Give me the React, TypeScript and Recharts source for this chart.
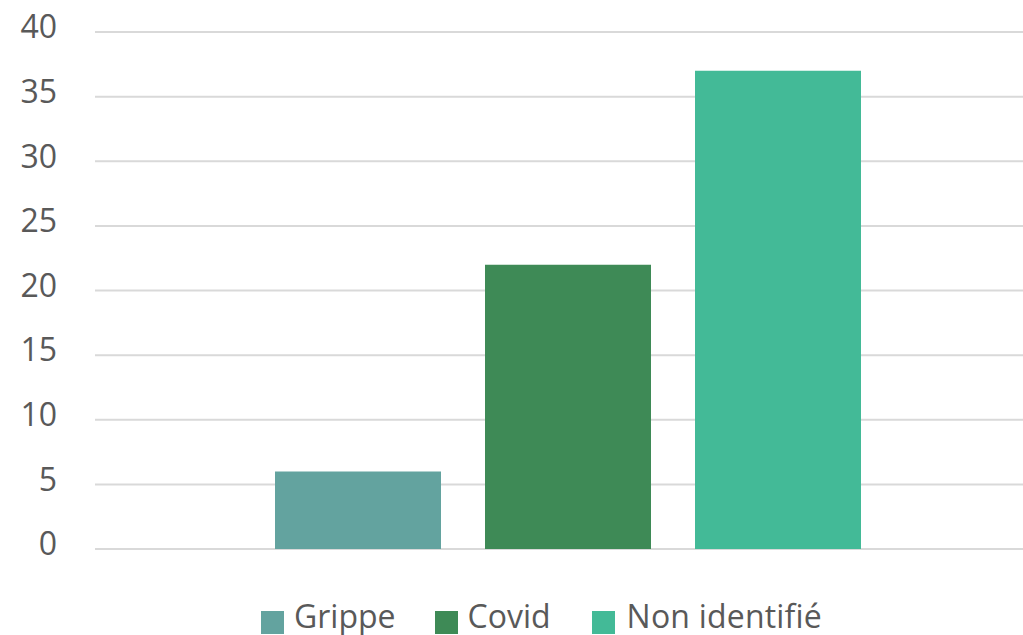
import { Bar, BarChart, CartesianGrid, Legend, XAxis, YAxis } from 'recharts';

const seriesNames = ['Grippe', 'Covid', 'Non identifié'];
const seriesValues = [6, 22, 37];
const seriesColors = ['#63a39f', '#3e8a56', '#43ba97'];
const yTicks = [0, 5, 10, 15, 20, 25, 30, 35, 40];

const row: Record<string, string | number> = { name: '' };
seriesNames.forEach((n, i) => {
  row[n] = seriesValues[i];
});
const data = [row];

const FONT = '"Open Sans", sans-serif';
const TEXT = '#595959';

function LegendBox() {
  return (
    <div
      style={{
        height: 38,
        display: 'flex',
        alignItems: 'flex-start',
        paddingLeft: 261,
        fontFamily: FONT,
        fontSize: 32,
        color: TEXT,
        lineHeight: '38px',
        whiteSpace: 'nowrap',
      }}
    >
      {seriesNames.map((n, i) => (
        <div key={n} style={{ display: 'flex', alignItems: 'flex-start', marginRight: i === 1 ? 41 : 39 }}>
          <span
            style={{
              display: 'inline-block',
              width: 23,
              height: 23,
              background: seriesColors[i],
              marginTop: 14,
              marginRight: i === 2 ? 12 : 10,
            }}
          />
          <span style={{ letterSpacing: i === 2 ? 0.2 : 0 }}>{n}</span>
        </div>
      ))}
    </div>
  );
}

export default function App() {
  return (
    <div
      style={{
        position: 'fixed',
        top: 0,
        left: 0,
        width: 1023,
        height: 635,
        overflow: 'hidden',
        background: '#fff',
      }}
    >
      <BarChart
        width={1041}
        height={635}
        data={data}
        margin={{ top: 32, right: 0, bottom: 48, left: 0 }}
        barSize={166}
        barGap={44}
      >
        <CartesianGrid stroke="#d9d9d9" strokeWidth={2} vertical={false} />
        <XAxis dataKey="name" hide />
        <YAxis
          width={95}
          domain={[0, 40]}
          ticks={yTicks}
          interval={0}
          axisLine={false}
          tickLine={false}
          tickSize={0}
          tickMargin={38}
          tick={{ fill: TEXT, fontSize: 32, fontFamily: FONT, dy: -5 }}
        />
        <Legend
          verticalAlign="bottom"
          content={() => <LegendBox />}
          wrapperStyle={{ left: 0, top: 597, width: 1041 }}
        />
        {seriesNames.map((n, i) => (
          <Bar key={n} dataKey={n} fill={seriesColors[i]} isAnimationActive={false} />
        ))}
      </BarChart>
    </div>
  );
}
